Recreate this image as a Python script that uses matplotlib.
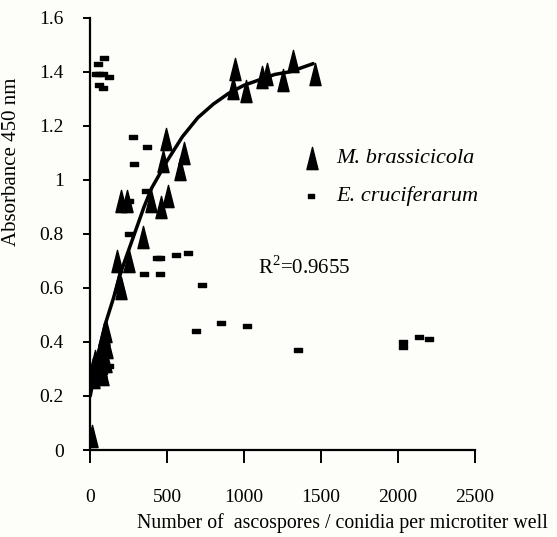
import matplotlib
matplotlib.use("Agg")
import matplotlib.pyplot as plt
from matplotlib.path import Path

# ---- data ----
mb_x = [10, 20, 25, 30, 60, 70, 80, 90, 100, 110, 100, 85,
        175, 190, 200, 250, 345,
        200, 240, 396, 461, 505, 490, 472, 581, 607,
        929, 944, 1016, 1120, 1150, 1255, 1316, 1462]
mb_y = [0.05, 0.30, 0.27, 0.33, 0.35, 0.31, 0.40, 0.43, 0.44, 0.38, 0.33, 0.28,
        0.70, 0.62, 0.60, 0.70, 0.79,
        0.92, 0.92, 0.92, 0.90, 0.94, 1.15, 1.07, 1.04, 1.10,
        1.34, 1.41, 1.33, 1.38, 1.39, 1.37, 1.44, 1.39]

ec_x = [37, 60, 80, 124, 48, 91, 59, 80,
        281, 368, 283, 255, 363, 255, 435, 455, 555, 635, 352, 455, 729,
        685, 853, 1020, 81, 120, 81, 1353, 2032, 2032, 2137, 2202]
ec_y = [1.39, 1.39, 1.39, 1.38, 1.43, 1.45, 1.35, 1.34,
        1.16, 1.12, 1.06, 0.92, 0.96, 0.80, 0.71, 0.71, 0.72, 0.73, 0.65, 0.65, 0.61,
        0.44, 0.47, 0.46, 0.31, 0.31, 0.29, 0.37, 0.40, 0.38, 0.42, 0.41]

fit_x = [0, 50, 100, 150, 200, 250, 300, 350, 400, 500, 600, 700, 800, 900,
         1000, 1100, 1200, 1300, 1450]
fit_y = [0.20, 0.35, 0.47, 0.56, 0.66, 0.74, 0.82, 0.90, 0.97, 1.07, 1.16, 1.23,
         1.28, 1.32, 1.35, 1.37, 1.39, 1.40, 1.43]

xticks = [0, 500, 1000, 1500, 2000, 2500]
yticks = [0, 0.2, 0.4, 0.6, 0.8, 1, 1.2, 1.4, 1.6]
ytick_labels = ["0", "0.2", "0.4", "0.6", "0.8", "1", "1.2", "1.4", "1.6"]

label_mb = "M. brassicicola"
label_ec = "E. cruciferarum"
r2_text = "R$^2$=0.9655"

# ---- style ----
plt.rcParams['font.family'] = ['Liberation Serif', 'DejaVu Serif']
plt.rcParams['mathtext.fontset'] = 'custom'
plt.rcParams['mathtext.rm'] = 'Liberation Serif'

tri = Path([(-0.5, -1), (0.5, -1), (0, 1), (-0.5, -1)],
           [Path.MOVETO, Path.LINETO, Path.LINETO, Path.CLOSEPOLY])
rect = Path([(-1, -0.55), (1, -0.55), (1, 0.55), (-1, 0.55), (-1, -0.55)],
            [Path.MOVETO, Path.LINETO, Path.LINETO, Path.LINETO, Path.CLOSEPOLY])

bg = '#fdfdf9'
fig = plt.figure(figsize=(5.57, 5.37), dpi=100, facecolor=bg)
ax = fig.add_axes([0.162, 0.162, 0.69, 0.805], facecolor=bg)

ax.plot(fit_x, fit_y, color='black', lw=2.5, zorder=2, solid_capstyle='round')
ax.plot(mb_x, mb_y, linestyle='none', marker=tri, markersize=16,
        color='black', zorder=3)
ax.plot(ec_x, ec_y, linestyle='none', marker=rect, markersize=5.5,
        color='black', zorder=3)

# legend (manual)
ax.plot([1445], [1.08], linestyle='none', marker=tri, markersize=16, color='black')
ax.plot([1435], [0.94], linestyle='none', marker=rect, markersize=5, color='black')
ax.text(1600, 1.08, label_mb, style='italic', fontsize=16, va='center', ha='left')
ax.text(1600, 0.94, label_ec, style='italic', fontsize=16, va='center', ha='left')
ax.text(1094, 0.675, r2_text, fontsize=15, va='center', ha='left')

ax.set_xlim(0, 2500)
ax.set_ylim(0, 1.6)
ax.set_xticks(xticks)
ax.set_yticks(yticks)
ax.set_yticklabels(ytick_labels)
for s in ['top', 'right']:
    ax.spines[s].set_visible(False)
for s in ['left', 'bottom']:
    ax.spines[s].set_linewidth(1.6)
ax.tick_params(axis='x', direction='out', length=9, width=1.4, pad=19, labelsize=14)
ax.tick_params(axis='y', direction='out', length=5, width=1.4, pad=14, labelsize=14)

ax.set_xlabel("Number of  ascospores / conidia per microtiter well", fontsize=14.3)
ax.xaxis.set_label_coords(0.655, -0.145)
ax.set_ylabel("Absorbance 450 nm", fontsize=15)
ax.yaxis.set_label_coords(-0.18, 0.667)

fig.savefig("out.png", dpi=100, facecolor=bg)
